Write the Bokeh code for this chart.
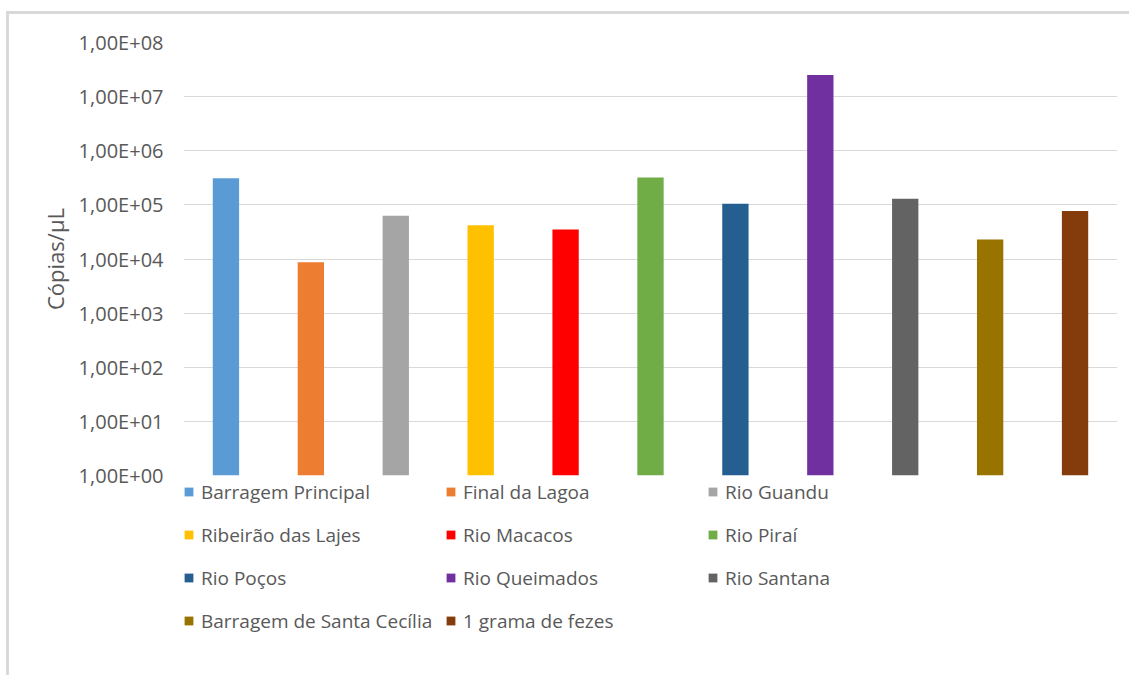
from bokeh.plotting import figure
from bokeh.models import ColumnDataSource, Legend, LegendItem, FixedTicker, CustomJSTickFormatter
from bokeh.embed import file_html
from bokeh.resources import INLINE

categories = ["Barragem Principal", "Final da Lagoa", "Rio Guandu", "Ribeirão das Lajes",
              "Rio Macacos", "Rio Piraí", "Rio Poços", "Rio Queimados", "Rio Santana",
              "Barragem de Santa Cecília", "1 grama de fezes"]
values = [3.1e5, 8.7e3, 6.3e4, 4.2e4, 3.5e4, 3.2e5, 1.05e5, 2.5e7, 1.3e5, 2.3e4, 7.7e4]
colors = ["#5B9BD5", "#ED7D31", "#A5A5A5", "#FFC000", "#FF0000", "#70AD47",
          "#255E91", "#7030A0", "#636363", "#997300", "#843C0C"]
y_ticks = [1, 10, 100, 1e3, 1e4, 1e5, 1e6, 1e7, 1e8]

FONT = "Open Sans"

p = figure(x_range=categories, y_axis_type="log", y_range=(1, 1e8),
           x_axis_location=None,
           frame_width=934, frame_height=433, output_backend="svg",
           toolbar_location=None, min_border_left=174, min_border_top=28,
           min_border_right=12, min_border_bottom=0)
p.styles = {"border-left": "3px solid #d9d9d9", "border-top": "3px solid #d9d9d9",
            "margin-left": "6px", "margin-top": "11px"}
p.outline_line_color = None
p.background_fill_color = "white"

renderers = []
for c, v, col in zip(categories, values, colors):
    src = ColumnDataSource(dict(x=[c], top=[v]))
    r = p.vbar(x="x", top="top", bottom=1, width=0.31, fill_color=col, line_color=None, source=src)
    renderers.append(r)

p.xgrid.grid_line_color = None
p.ygrid.grid_line_color = "#d9d9d9"
p.ygrid.grid_line_width = 1
p.yaxis.ticker = FixedTicker(ticks=y_ticks, minor_ticks=[])
p.yaxis.formatter = CustomJSTickFormatter(code="""
    const e = Math.round(Math.log10(tick));
    return "1,00E+" + (e < 10 ? "0" + e : "" + e);
""")
p.yaxis.axis_line_color = None
p.yaxis.major_tick_line_color = None
p.yaxis.minor_tick_line_color = None
p.yaxis.major_label_text_font = FONT
p.yaxis.major_label_text_font_size = "20px"
p.yaxis.major_label_text_color = "#595959"
p.yaxis.major_label_standoff = 14
p.yaxis.axis_label = "Cópias/μL"
p.yaxis.axis_label_text_font = FONT
p.yaxis.axis_label_text_font_size = "22px"
p.yaxis.axis_label_text_font_style = "normal"
p.yaxis.axis_label_text_color = "#595959"
p.yaxis.axis_label_standoff = 6

items = [LegendItem(label=c, renderers=[r]) for c, r in zip(categories, renderers)]
legend = Legend(items=items, orientation="horizontal", ncols=3,
                location="top_left", border_line_color=None, background_fill_alpha=0,
                label_text_font=FONT, label_text_font_size="19px", label_text_color="#595959",
                glyph_width=11, glyph_height=11, label_standoff=7, label_height=33,
                label_width=234, spacing=10, padding=0, margin=0)
p.add_layout(legend, "below")

open("out.html", "w").write(file_html(p, INLINE))
